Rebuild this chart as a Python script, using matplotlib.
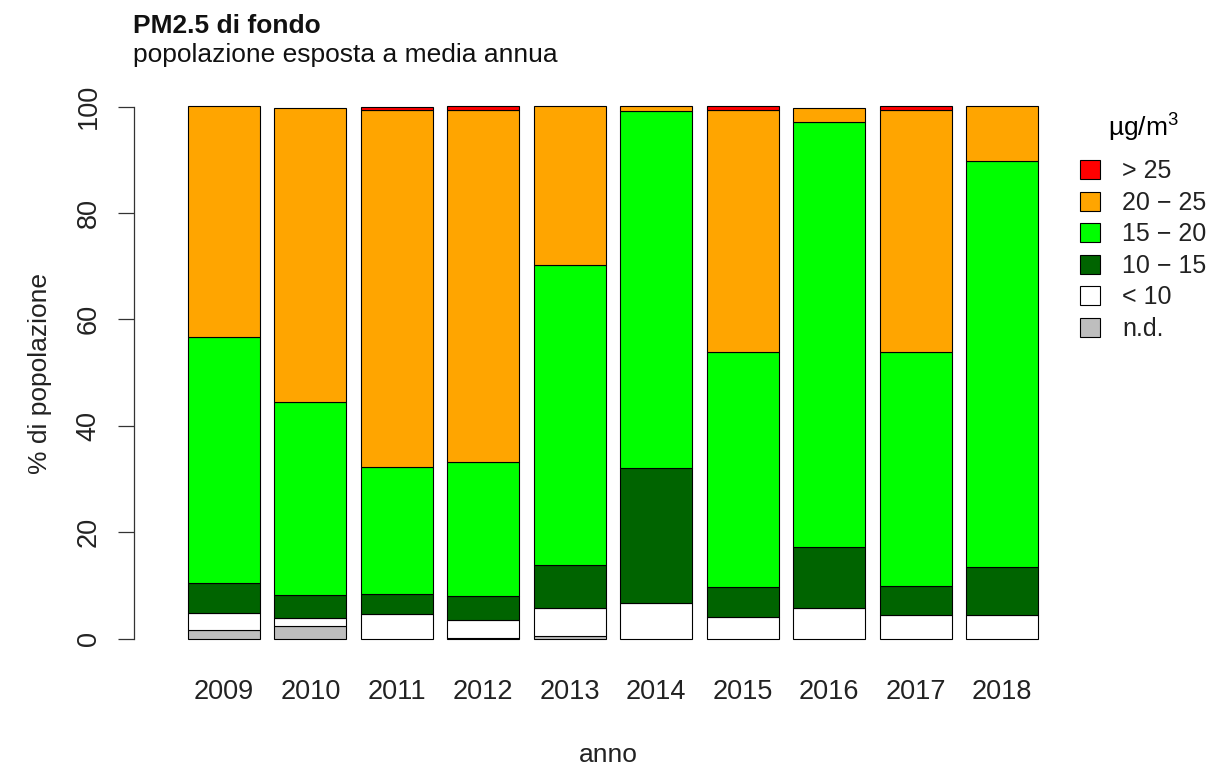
import matplotlib
matplotlib.use("Agg")
import matplotlib.pyplot as plt
from matplotlib.patches import Patch
import numpy as np

plt.rcParams['font.family'] = ['Liberation Sans', 'DejaVu Sans']
plt.rcParams['mathtext.fontset'] = 'custom'
plt.rcParams['mathtext.rm'] = 'Liberation Sans'
plt.rcParams['mathtext.it'] = 'Liberation Sans'

years = ["2009", "2010", "2011", "2012", "2013", "2014", "2015", "2016", "2017", "2018"]
labels = ["n.d.", "< 10", "10 − 15", "15 − 20", "20 − 25", "> 25"]
colors = ["#BEBEBE", "#FFFFFF", "#006400", "#00FF00", "#FFA500", "#FF0000"]

nd     = [1.6, 2.35, 0.0, 0.2, 0.6, 0.0, 0.0, 0.0, 0.0, 0.0]
lt10   = [3.2, 1.45, 4.7, 3.4, 5.1, 6.7, 4.0, 5.8, 4.5, 4.5]
c10_15 = [5.7, 4.4, 3.7, 4.4, 8.2, 25.4, 5.8, 11.4, 5.4, 9.0]
c15_20 = [46.1, 36.3, 23.9, 25.2, 56.3, 67.0, 44.0, 79.9, 43.9, 76.3]
c20_25 = [43.4, 55.3, 67.1, 66.2, 29.8, 0.9, 45.6, 2.7, 45.6, 10.2]
gt25   = [0.0, 0.0, 0.6, 0.6, 0.0, 0.0, 0.6, 0.0, 0.6, 0.0]

series = [nd, lt10, c10_15, c15_20, c20_25, gt25]

W, H = 1216, 767
fig = plt.figure(figsize=(W / 100, H / 100), dpi=100)

x_left_px, x0_px = 134, 638.7
y100_px = 106.5
ppu = 72.05
xmin, xmax = -0.549, 12.2
ax = fig.add_axes([x_left_px / W, (H - x0_px) / H,
                   (xmax - xmin) * ppu / W, (x0_px - y100_px) / H])

pos = 0.7 + 1.2 * np.arange(len(years))
bottom = np.zeros(len(years))
for vals, col in zip(series, colors):
    v = np.array(vals)
    ax.bar(pos, v, width=1.0, bottom=bottom, color=col, edgecolor="black",
           linewidth=np.where(v > 0, 0.8, 0.0), clip_on=False)
    bottom += v

ax.set_xlim(xmin, xmax)
ax.set_ylim(0, 100)
for s in ["top", "right", "bottom"]:
    ax.spines[s].set_visible(False)
ax.spines["left"].set_bounds(0, 100)
ax.spines["left"].set_linewidth(0.9)
ax.spines["left"].set_color("#333333")

ax.set_yticks([0, 20, 40, 60, 80, 100])
ax.set_yticklabels(["0", "20", "40", "60", "80", "100"], rotation=90,
                   va="center", ha="center")
ax.tick_params(axis="y", length=11.5, width=0.9, color="#333333", pad=21,
               labelsize=19.5, labelcolor="#222222")
ax.set_xticks(pos)
ax.set_xticklabels(years)
ax.tick_params(axis="x", length=0, pad=29, labelsize=19.5, labelcolor="#222222")

fig.text(133 / W, 1 - 33 / H, "PM2.5 di fondo", fontsize=19, fontweight="bold",
         va="baseline", ha="left", color="#111111")
fig.text(133 / W, 1 - 62 / H, "popolazione esposta a media annua", fontsize=19,
         va="baseline", ha="left", color="#111111")
fig.text(40 / W, 1 - 374 / H, "% di popolazione", fontsize=19, rotation=90,
         va="center", ha="center", color="#222222")
fig.text(608 / W, 1 - 762 / H, "anno", fontsize=19, va="baseline", ha="center",
         color="#222222")

handles = [Patch(facecolor=c, edgecolor="black", linewidth=0.8) for c in colors[::-1]]
leg = fig.legend(handles, labels[::-1], loc="upper left",
                 bbox_to_anchor=(1080 / W, 1 - 112 / H), frameon=False,
                 fontsize=18, title="µg/m$^3$", title_fontsize=19,
                 handlelength=0.8, handleheight=0.8, handletextpad=0.9,
                 labelspacing=0.3, borderpad=0, borderaxespad=0)
leg._legend_box.sep = 11
for t in leg.get_texts():
    t.set_color("#222222")

fig.savefig("out.png", dpi=100)
